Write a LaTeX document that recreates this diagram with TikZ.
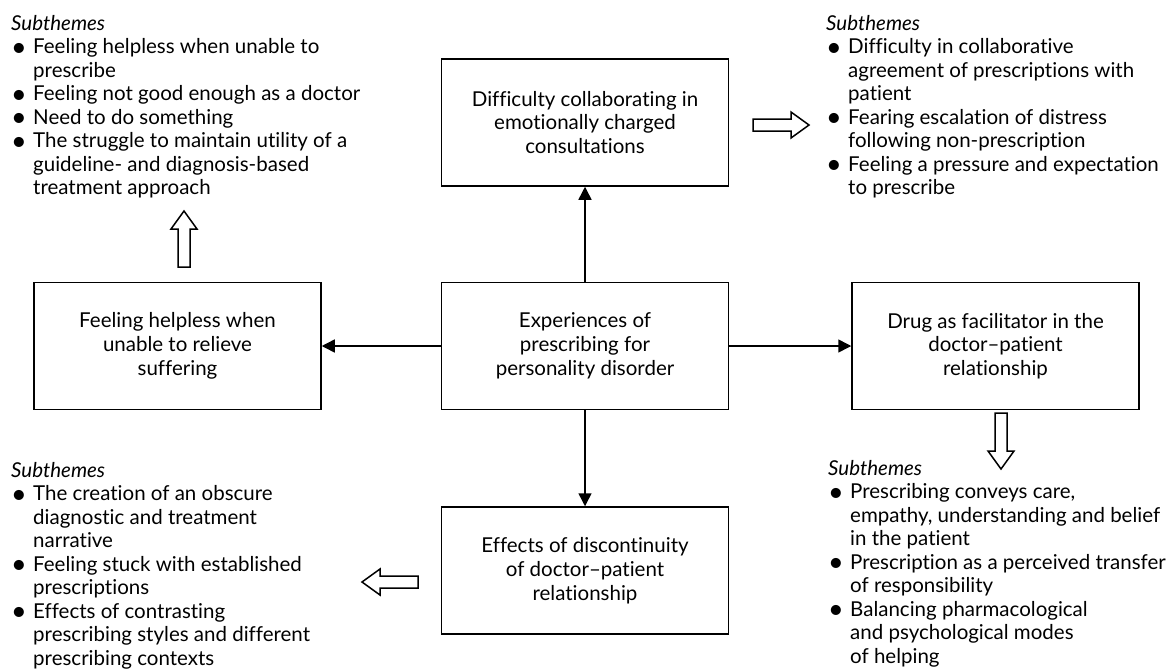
\documentclass[tikz,border=0pt]{standalone}
\usepackage{fontspec}
\setmainfont{Lato}[Ligatures=NoCommon]
\usetikzlibrary{arrows.meta, positioning}

\newcommand{\tikzHollowArrow}[4]{
% #1 = name, #2 = x, #3 = y, #4 = angle
\begin{scope}[shift={(#2,#3)}, rotate=#4]
\draw[line width=1.5pt, fill=white] (-28,-6) -- (10,-6) -- (10,-13) -- (28,0) -- (10,13) -- (10,6) -- (-28,6) -- cycle;
\coordinate (#1) at (0,0);
\end{scope}
}
% round bullet of the subtheme lists
\newcommand{\bul}{\makebox[22pt][l]{\raisebox{-2.4pt}[0pt][0pt]{\fontsize{27pt}{0pt}\selectfont\textbullet}}}
\newcommand{\ind}{\hspace*{22pt}}

\begin{document}
\begin{tikzpicture}[x=1pt, y=-1pt, >={Triangle[length=13pt, width=13pt]},
    theme/.style={draw, line width=1.5pt, minimum width=287pt, minimum height=127pt,
        align=center, inner sep=0pt, font=\fontsize{20.5pt}{23.8pt}\selectfont},
    subtheme/.style={anchor=north west, align=left, inner sep=0pt,
        font=\fontsize{20.5pt}{23.5pt}\selectfont}]

    \useasboundingbox (0,0) rectangle (1169,670);

    % the five theme boxes:
    \node[theme] (core) at (585,346) {Experiences of\\prescribing for\\personality disorder};
    \node[theme, above=95pt of core] (collab) {Difficulty collaborating in\\emotionally charged\\consultations};
    \node[theme, left=119pt of core] (helpless) {Feeling helpless when\\unable to relieve\\suffering};
    \node[theme, right=122pt of core] (drug) {Drug as facilitator in the\\doctor--patient\\relationship};
    \node[theme, below=96pt of core] (discont) {Effects of discontinuity\\of doctor--patient\\relationship};

    \draw[->, line width=1.5pt] (core) -- (collab);
    \draw[->, line width=1.5pt] (core) -- (helpless);
    \draw[->, line width=1.5pt] (core) -- (drug);
    \draw[->, line width=1.5pt] (core) -- (discont);

    % subthemes next to each box:
    \node[subtheme] (subHelpless) at (11,15) {\textit{Subthemes}\\
        \bul Feeling helpless when unable to\\ \ind prescribe\\
        \bul Feeling not good enough as a doctor\\
        \bul Need to do something\\
        \bul The struggle to maintain utility of a\\ \ind guideline- and diagnosis-based\\ \ind treatment approach};
    \node[subtheme] (subCollab) at (826,15) {\textit{Subthemes}\\
        \bul Difficulty in collaborative\\ \ind agreement of prescriptions with\\ \ind patient\\
        \bul Fearing escalation of distress\\ \ind following non-prescription\\
        \bul Feeling a pressure and expectation\\ \ind to prescribe};
    \node[subtheme] (subDiscont) at (11,462) {\textit{Subthemes}\\
        \bul The creation of an obscure\\ \ind diagnostic and treatment\\ \ind narrative\\
        \bul Feeling stuck with established\\ \ind prescriptions\\
        \bul Effects of contrasting\\ \ind prescribing styles and different\\ \ind prescribing contexts};
    \node[subtheme] (subDrug) at (828,460) {\textit{Subthemes}\\
        \bul Prescribing conveys care,\\ \ind empathy, understanding and belief\\ \ind in the patient\\
        \bul Prescription as a perceived transfer\\ \ind of responsibility\\
        \bul Balancing pharmacological\\ \ind and psychological modes\\ \ind of helping};

    % hollow arrows pointing at the subthemes:
    \tikzHollowArrow{upArrow}{184}{239}{90}
    \tikzHollowArrow{rightArrow}{781}{125}{0}
    \tikzHollowArrow{downArrow}{1001}{441}{-90}
    \tikzHollowArrow{leftArrow}{390}{582}{180}

\end{tikzpicture}
\end{document}
